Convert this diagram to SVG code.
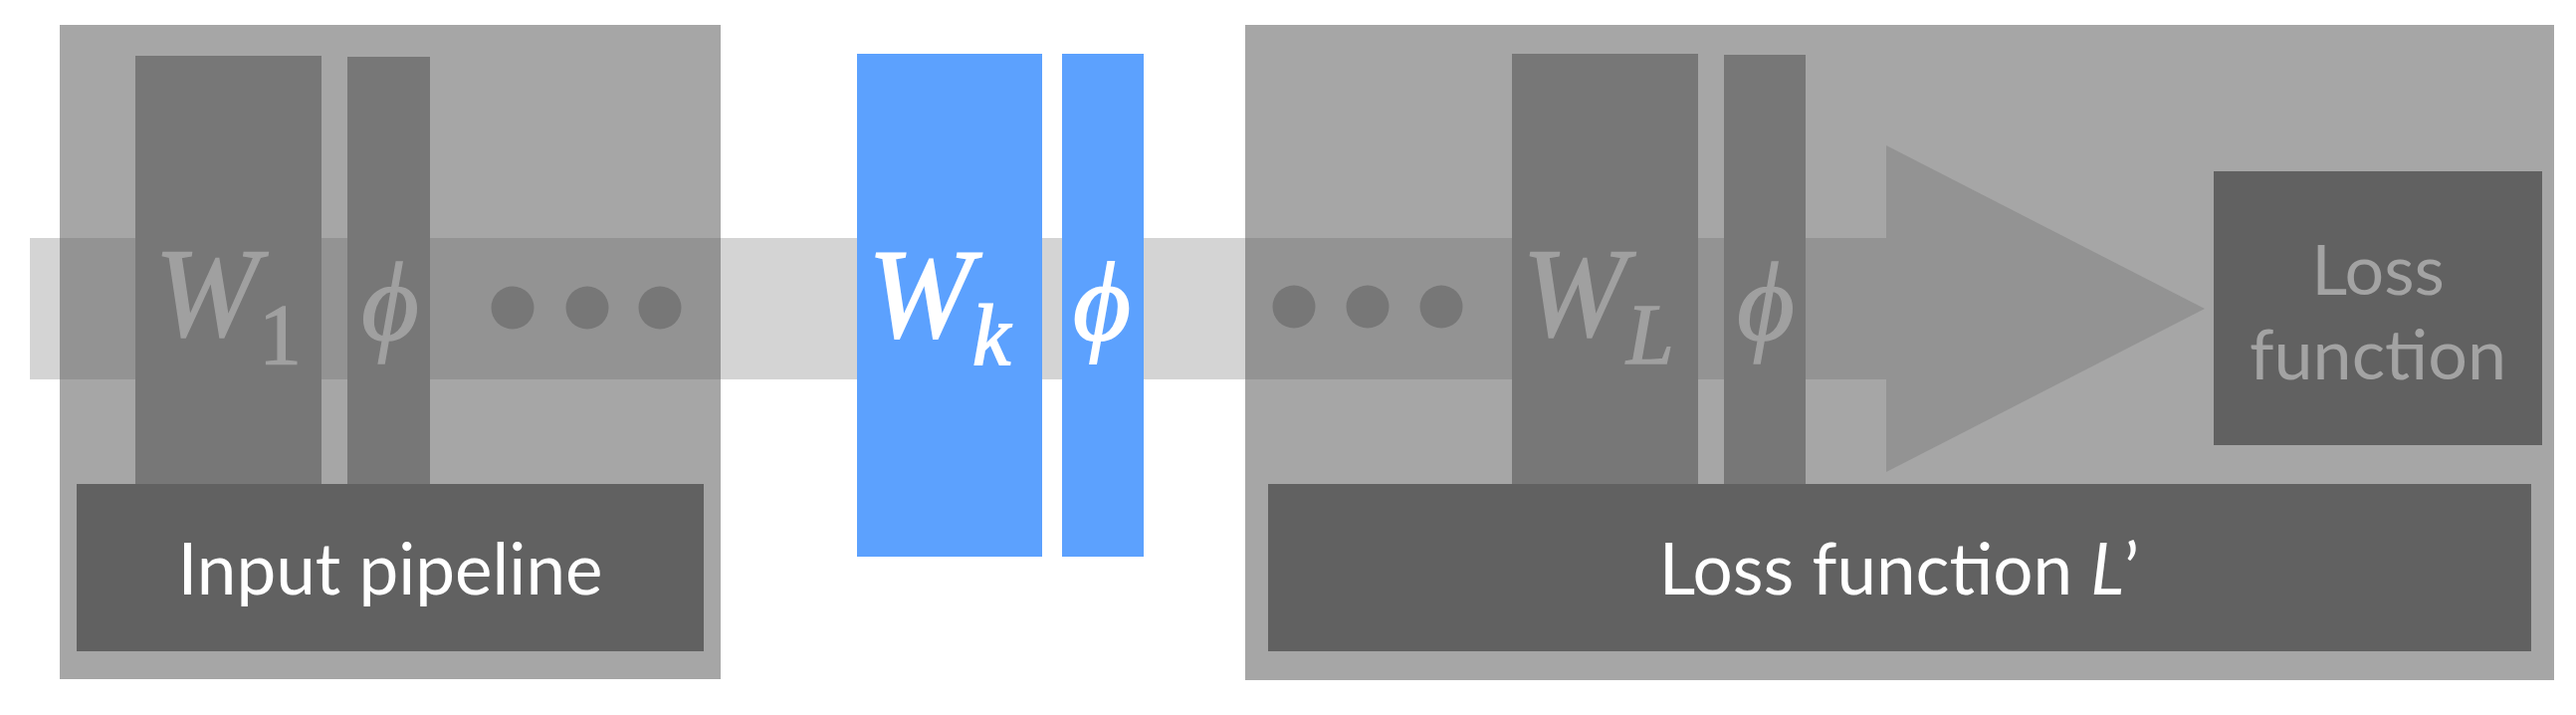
<svg xmlns="http://www.w3.org/2000/svg" width="2588" height="718" viewBox="0 0 2588 718">
<style>
.box{fill:#a6a6a6}
.band{fill:#d4d4d4}
.bandd{fill:#939393}
.layer{fill:#777777}
.blue{fill:#5ca1fe}
.bar{fill:#616161}
.dot{fill:#777777}
.lbl{font-family:Lato,"Liberation Sans",sans-serif;font-size:71px;fill:#ffffff;text-anchor:middle}
.lblg{font-family:Lato,"Liberation Sans",sans-serif;font-size:70px;fill:#a3a3a3;text-anchor:middle}
.math{font-family:"Liberation Serif","Times New Roman",serif;font-style:italic;font-size:126px}
.phi{font-family:"Liberation Serif","Times New Roman",serif;font-style:italic;font-size:112px;text-anchor:middle}
.g{fill:#a0a0a0;stroke:#a0a0a0;stroke-width:1.3}
.w{fill:#ffffff;stroke:#ffffff;stroke-width:1.8}
</style>
<rect width="2588" height="718" fill="#ffffff"/>
<g id="left-box">
<rect class="box" x="60" y="25" width="664" height="657"/>
</g>
<g id="right-box">
<rect class="box" x="1251" y="25" width="1315" height="658"/>
</g>
<g id="connectors">
<rect class="band" x="30" y="239" width="30" height="142"/>
<rect class="bandd" x="60" y="239" width="664" height="142"/>
<rect class="band" x="724" y="239" width="527" height="142"/>
<rect class="bandd" x="1251" y="239" width="645" height="142"/>
<polygon class="bandd" points="1895,146 2215,310 1895,474"/>
</g>
<g id="W1">
<rect class="layer" x="136" y="56" width="187" height="430"/>
<text class="math g" x="155" y="337">W<tspan dy="28" font-size="86" font-style="normal">1</tspan></text>
</g>
<g id="phi1">
<rect class="layer" x="349" y="57" width="83" height="429"/>
<text class="phi g" x="392" y="341">ϕ</text>
</g>
<g id="Wk">
<rect class="blue" x="861" y="54" width="186" height="505"/>
<text class="math w" x="872" y="338">W<tspan dy="28" font-size="86">k</tspan></text>
</g>
<g id="phik">
<rect class="blue" x="1067" y="54" width="82" height="505"/>
<text class="phi w" x="1107" y="341">ϕ</text>
</g>
<g id="WL">
<rect class="layer" x="1519" y="54" width="187" height="432"/>
<text class="math g" x="1529" y="337">W<tspan dy="28" font-size="86">L</tspan></text>
</g>
<g id="phiL">
<rect class="layer" x="1732" y="55" width="82" height="431"/>
<text class="phi g" x="1774" y="341">ϕ</text>
</g>
<g id="dots-left">
<circle class="dot" cx="515" cy="309" r="21.5"/>
<circle class="dot" cx="590" cy="309" r="21.5"/>
<circle class="dot" cx="663" cy="309" r="21.5"/>
</g>
<g id="input-pipeline">
<rect class="bar" x="77" y="486" width="630" height="168"/>
<text class="lbl" x="392" y="597">Input pipeline</text>
</g>
<g id="dots-right">
<circle class="dot" cx="1300" cy="308" r="21.5"/>
<circle class="dot" cx="1374" cy="308" r="21.5"/>
<circle class="dot" cx="1448" cy="308" r="21.5"/>
</g>
<g id="loss-function">
<rect class="bar" x="2224" y="172" width="330" height="275"/>
<text class="lblg" x="2389" y="296">Loss</text>
<text class="lblg" x="2389" y="381">function</text>
</g>
<g id="loss-function-L">
<rect class="bar" x="1274" y="486" width="1269" height="168"/>
<text class="lbl" x="1908" y="597">Loss function <tspan font-style="italic">L</tspan>’</text>
</g>
</svg>
